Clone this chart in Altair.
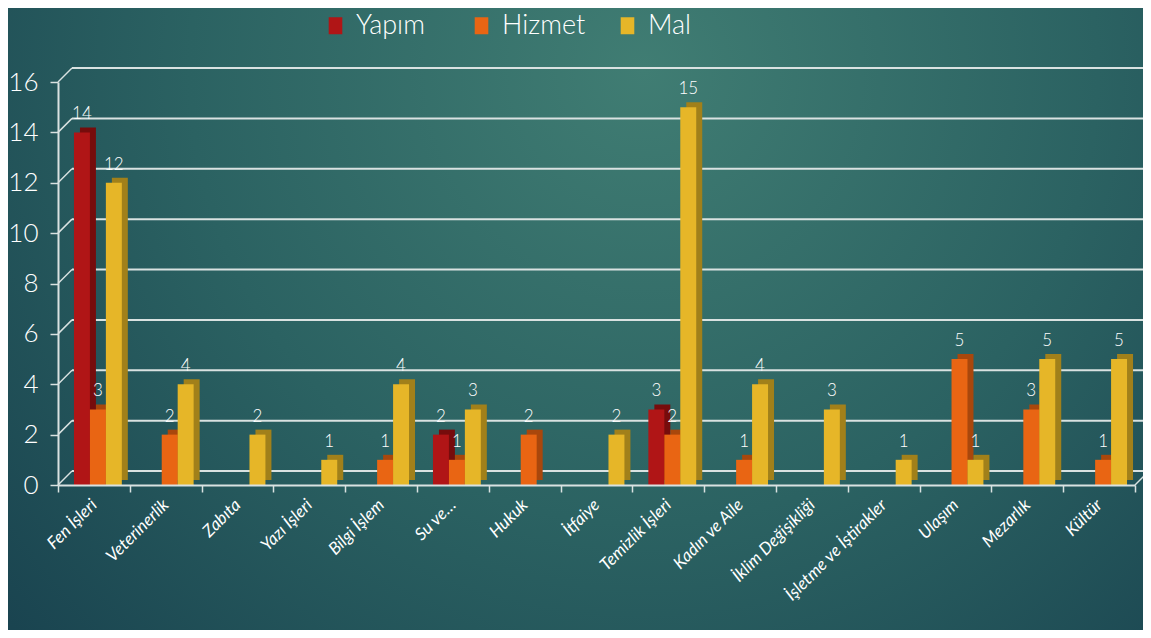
import altair as alt
import pandas as pd

categories = ["Fen İşleri", "Veterinerlik", "Zabıta", "Yazı İşleri", "Bilgi İşlem",
              "Su ve…", "Hukuk", "İtfaiye", "Temizlik İşleri", "Kadın ve Aile",
              "İklim Değişikliği", "İşletme ve İştirakler", "Ulaşım", "Mezarlık", "Kültür"]
series = ["Yapım", "Hizmet", "Mal"]
yapim = [14, None, None, None, None, 2, None, None, 3, None, None, None, None, None, None]
hizmet = [3, 2, None, None, 1, 1, 2, None, 2, 1, None, None, 5, 3, 1]
mal = [12, 4, 2, 1, 4, 3, None, 2, 15, 4, 3, 1, 1, 5, 5]
y_ticks = [0, 2, 4, 6, 8, 10, 12, 14, 16]

front_colors = ["#b01516", "#e96513", "#e6b628"]
side_colors = ["#760c0c", "#a9470c", "#a1801a"]

rows = []
for s, vals in zip(series, [yapim, hizmet, mal]):
    for c, v in zip(categories, vals):
        if v is not None:
            rows.append({"category": c, "series": s, "value": v})
df = pd.DataFrame(rows)
ticks_df = pd.DataFrame({"value": y_ticks})

W, H = 1077, 403
D = 14  # depth of the 3D frame
FONT = "Lato"
GRID = "#d9e2e1"
STEP = W / len(categories)
BAR = STEP / 4.5

yscale = alt.Scale(domain=[0, 16], nice=False)
xscale = alt.Scale(domain=categories, paddingInner=0, paddingOuter=0)
front_off = alt.Scale(domain=series, range=[STEP / 6 + 4, STEP * 5 / 6 + 4], paddingInner=0, paddingOuter=0)
side_off = alt.Scale(domain=series, range=[STEP / 6 + 10, STEP * 5 / 6 + 10], paddingInner=0, paddingOuter=0)
text_off = alt.Scale(type="point", domain=series, padding=0,
                     range=[STEP / 6 + 4 + BAR / 2, STEP * 5 / 6 + 4 - BAR / 2])

x_axis = alt.Axis(labelAngle=-45, labelAlign="right", labelBaseline="middle",
                  labelFontSize=17, labelFontStyle="italic", labelFont=FONT,
                  labelColor="#ffffff", labelPadding=10, tickBand="extent",
                  tickSize=7, tickColor=GRID, tickWidth=1.5, title=None,
                  domainColor=GRID, domainWidth=2, grid=False, zindex=1)
y_axis = alt.Axis(values=y_ticks, grid=False, labelFontSize=26, labelFont=FONT,
                  labelFontWeight=300, labelColor="#ffffff", labelPadding=12,
                  tickSize=8, tickColor=GRID, tickWidth=1.5, title=None,
                  domainColor=GRID, domainWidth=2, zindex=1)

bg_grad = alt.RadialGradient(
    gradient="radial", x1=0.56, y1=0.28, r1=0.0, x2=0.56, y2=0.28, r2=0.8,
    stops=[alt.GradientStop(offset=0, color="#407d73"),
           alt.GradientStop(offset=0.5, color="#2b6262"),
           alt.GradientStop(offset=1, color="#173f4d")])

bg = alt.Chart(pd.DataFrame({"k": [0]})).mark_rect(fill=bg_grad).encode(
    x=alt.value(-50), x2=alt.value(W + 8), y=alt.value(-74), y2=alt.value(H + 145))

Y = alt.Y("value:Q", scale=yscale, title=None, axis=y_axis)
X = alt.X("category:N", sort=categories, scale=xscale, title=None, axis=x_axis)

back_grid = alt.Chart(ticks_df).mark_rule(color=GRID, strokeWidth=2, yOffset=-D, y2Offset=-D).encode(
    y=Y, y2="value:Q", x=alt.value(D), x2=alt.value(W + D))

diag = alt.Chart(ticks_df).mark_rule(color=GRID, strokeWidth=1.5, y2Offset=-D).encode(
    y=Y, y2="value:Q", x=alt.value(0), x2=alt.value(D))

right_diag = alt.Chart(pd.DataFrame({"value": [0]})).mark_rule(color=GRID, strokeWidth=1.5, y2Offset=-D).encode(
    y=Y, y2="value:Q", x=alt.value(W), x2=alt.value(W + D))

base = alt.Chart(df)

side = base.mark_bar(yOffset=-5).encode(
    x=X, xOffset=alt.XOffset("series:N", sort=series, scale=side_off), y=Y,
    color=alt.Color("series:N", scale=alt.Scale(domain=series, range=side_colors), legend=None),
)

legend = alt.Legend(
    orient="none", legendX=264, legendY=-70, direction="horizontal", title=None,
    labelFontSize=27, labelColor="#ffffff", labelFont=FONT, labelFontWeight=300,
    symbolType="M-0.8,-1H0.8V1H-0.8Z", symbolSize=289, symbolStrokeWidth=0,
    symbolOpacity=1, columnPadding=28, gridAlign="all", labelOffset=7)

front = base.mark_bar().encode(
    x=X, xOffset=alt.XOffset("series:N", sort=series, scale=front_off), y=Y,
    color=alt.Color("series:N", scale=alt.Scale(domain=series, range=front_colors),
                    legend=legend),
)

labels = base.mark_text(dy=-9, baseline="bottom", fontSize=17, font=FONT,
                        fontWeight=300, color="#ffffff").encode(
    x=X, xOffset=alt.XOffset("series:N", sort=series, scale=text_off), y=Y, text="value:Q",
)

chart = alt.layer(bg, back_grid, diag, right_diag, side, front, labels).resolve_scale(
    color="independent", xOffset="independent"
).properties(
    width=W, height=H,
    autosize=alt.AutoSizeParams(type="none"),
    padding={"left": 50, "top": 74, "right": 8, "bottom": 145},
    background="#2b5f62",
).configure_view(stroke=None)

chart.save("out.html", embed_options={"renderer": "svg", "actions": False})
